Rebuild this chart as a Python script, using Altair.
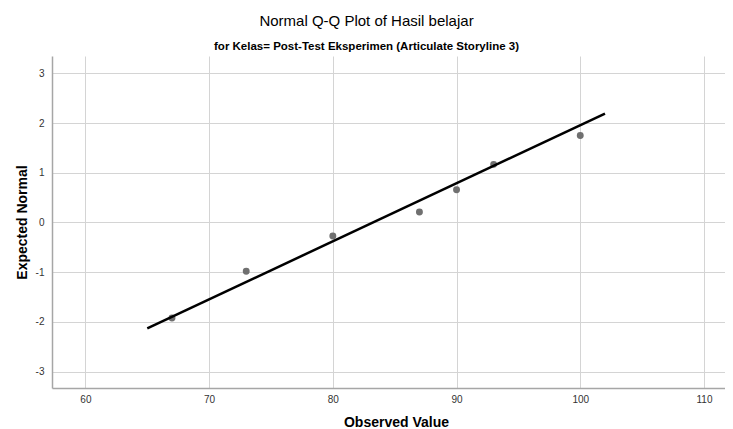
import altair as alt
import pandas as pd

observed = [67, 73, 80, 87, 90, 93, 100]
expected = [-1.92, -0.98, -0.27, 0.21, 0.66, 1.17, 1.75]

# Reference line endpoints
line_x = [65, 102]
line_y = [-2.13, 2.19]

x_ticks = [60, 70, 80, 90, 100, 110]
y_ticks = [-3, -2, -1, 0, 1, 2, 3]

pts = pd.DataFrame({"obs": observed, "exp": expected})
ln = pd.DataFrame({"obs": line_x, "exp": line_y})

font = "Liberation Sans"
hyphen_labels = "datum.value < 0 ? '-' + abs(datum.value) : '' + datum.value"

xscale = alt.Scale(domain=[57.3, 111.7], nice=False, zero=False)
yscale = alt.Scale(domain=[-3.33, 3.35], nice=False, zero=False)

xaxis = alt.Axis(
    title="Observed Value", values=x_ticks, grid=True, ticks=False,
    labelPadding=6, titlePadding=11, labelFontSize=10, titleFontSize=14,
    titleFontWeight="bold", labelColor="#333333", titleColor="#000000",
    domainColor="#a6a6a6", domainWidth=1.5, gridColor="#d4d4d4", gridWidth=1,
    labelFont=font, titleFont=font, labelExpr=hyphen_labels, titleX=344,
)
yaxis = alt.Axis(
    title="Expected Normal", values=y_ticks, grid=True, ticks=False,
    labelPadding=8, titlePadding=6, labelFontSize=10, titleFontSize=14,
    titleFontWeight="bold", labelColor="#333333", titleColor="#000000",
    domainColor="#a6a6a6", domainWidth=1.5, gridColor="#d4d4d4", gridWidth=1,
    labelFont=font, titleFont=font, labelExpr=hyphen_labels,
)

points = alt.Chart(pts).mark_circle(size=48, color="#707070", opacity=1).encode(
    x=alt.X("obs:Q", scale=xscale, axis=xaxis),
    y=alt.Y("exp:Q", scale=yscale, axis=yaxis),
)

line = alt.Chart(ln).mark_line(color="#000000", strokeWidth=2.5).encode(
    x=alt.X("obs:Q", scale=xscale),
    y=alt.Y("exp:Q", scale=yscale),
)

chart = alt.layer(points, line).properties(
    width=673,
    height=332,
    autosize=alt.AutoSizeParams(type="none"),
    padding={"left": 44, "top": 48, "right": 0, "bottom": 40},
    title=alt.TitleParams(
        text="Normal Q-Q Plot of Hasil belajar",
        subtitle="for Kelas= Post-Test Eksperimen (Articulate Storyline 3)",
        anchor="middle", dx=-22, offset=4,
        font=font, fontSize=15, fontWeight="normal", color="#000000",
        subtitleFont=font, subtitleFontSize=11.5, subtitleFontWeight="bold",
        subtitleColor="#000000", subtitlePadding=12,
    ),
).configure_view(stroke=None)

chart.save("out.html", embed_options={"renderer": "svg", "actions": False})
